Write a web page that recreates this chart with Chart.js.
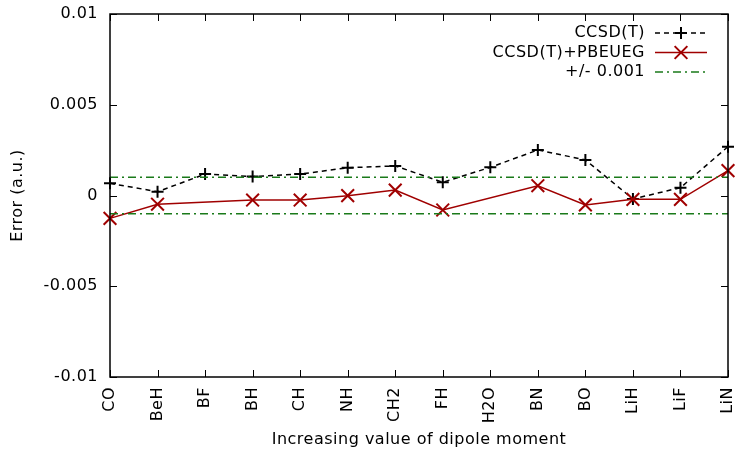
<!DOCTYPE html>
<html>
<head>
<meta charset="utf-8">
<script src="https://cdn.jsdelivr.net/npm/chart.js@4/dist/chart.umd.min.js"></script>
<style>
  html, body { margin: 0; padding: 0; background: #fff; }
  #wrap { width: 739px; height: 450px; }
</style>
</head>
<body>
<div id="wrap"><canvas id="c" width="739" height="450"></canvas></div>
<script>
// Molecules, ordered by increasing dipole moment
const molecules = ['CO', 'BeH', 'BF', 'BH', 'CH', 'NH', 'CH2', 'FH', 'H2O', 'BN', 'BO', 'LiH', 'LiF', 'LiN'];

// Error (a.u.) of each method
const ccsdT = [0.00067, 0.00021, 0.00118, 0.00104, 0.00118, 0.00153, 0.00163, 0.00073, 0.00155, 0.00251, 0.00196, -0.00019, 0.00043, 0.00269];
const ccsdTPbeueg = [-0.00126, -0.00048, null, -0.00025, -0.00025, -0.00001, 0.00030, -0.00080, null, 0.00054, -0.00052, -0.00021, -0.00021, 0.00137];

// Tolerance band
const tolerance = 0.001;
const yTicks = [-0.01, -0.005, 0, 0.005, 0.01];

const FONT = 'DejaVu Sans';
const BLACK = '#000000';
const RED = '#a00000';
const GREEN = '#1a7a1a';

Chart.defaults.color = BLACK;
Chart.defaults.font.family = FONT;
Chart.defaults.font.size = 16;

const legendItems = [
  { text: 'CCSD(T)', color: BLACK, dash: [5, 4], marker: 'cross', radius: 6 },
  { text: 'CCSD(T)+PBEUEG', color: RED, dash: [], marker: 'crossRot', radius: 9 },
  { text: '+/- 0.001', color: GREEN, dash: [8, 4, 2, 4], marker: null }
];

// Slightly looser text spacing for every label on the canvas
const spacingPlugin = {
  id: 'spacing',
  beforeInit(chart) { chart.ctx.letterSpacing = '0.5px'; },
  beforeDraw(chart) { chart.ctx.letterSpacing = '0.5px'; }
};

// Frame, inward ticks on all four sides, and the key in the top-right corner
const framePlugin = {
  id: 'frame',
  afterDraw(chart) {
    const { ctx, chartArea: a, scales } = chart;
    ctx.save();
    ctx.strokeStyle = BLACK;
    ctx.lineWidth = 1;
    ctx.beginPath();
    const tl = 7;
    yTicks.forEach(v => {
      const y = Math.round(scales.y.getPixelForValue(v)) + 0.5;
      ctx.moveTo(a.left, y); ctx.lineTo(a.left + tl, y);
      ctx.moveTo(a.right, y); ctx.lineTo(a.right - tl, y);
    });
    molecules.forEach((m, i) => {
      const x = Math.round(scales.x.getPixelForValue(i)) + 0.5;
      ctx.moveTo(x, a.bottom); ctx.lineTo(x, a.bottom - tl);
      ctx.moveTo(x, a.top); ctx.lineTo(x, a.top + tl);
    });
    ctx.stroke();

    ctx.lineWidth = 1.5;
    ctx.strokeRect(a.left, a.top, a.right - a.left, a.bottom - a.top);

    // key
    ctx.font = '16px "' + FONT + '"';
    ctx.letterSpacing = '0.5px';
    ctx.textAlign = 'right';
    ctx.textBaseline = 'middle';
    legendItems.forEach((it, k) => {
      const y = a.top + 19 + k * 19.5;
      ctx.fillStyle = BLACK;
      ctx.fillText(it.text, a.right - 83, y);
      ctx.strokeStyle = it.color;
      ctx.lineWidth = 1.5;
      ctx.setLineDash(it.dash);
      ctx.beginPath();
      ctx.moveTo(a.right - 73, y);
      ctx.lineTo(a.right - 21, y);
      ctx.stroke();
      ctx.setLineDash([]);
      if (it.marker) {
        ctx.lineWidth = 2;
        Chart.helpers.drawPoint(ctx, { pointStyle: it.marker, radius: it.radius, borderWidth: 2, rotation: 0 }, a.right - 47, y);
      }
    });
    ctx.restore();
  }
};

new Chart(document.getElementById('c'), {
  type: 'line',
  data: {
    labels: molecules,
    datasets: [
      {
        label: 'CCSD(T)',
        data: ccsdT,
        borderColor: BLACK,
        backgroundColor: BLACK,
        borderWidth: 1.5,
        borderDash: [5, 4],
        pointStyle: 'cross',
        pointRadius: 6,
        pointBorderWidth: 2,
        pointBorderColor: BLACK,
        tension: 0,
        fill: false,
        order: 2
      },
      {
        label: 'CCSD(T)+PBEUEG',
        data: ccsdTPbeueg,
        borderColor: RED,
        backgroundColor: RED,
        borderWidth: 1.5,
        pointStyle: 'crossRot',
        pointRadius: 9,
        pointBorderWidth: 2,
        pointBorderColor: RED,
        spanGaps: true,
        tension: 0,
        fill: false,
        order: 1
      },
      {
        label: '+/- 0.001',
        data: [{ x: molecules[0], y: tolerance }, { x: molecules[molecules.length - 1], y: tolerance }],
        borderColor: GREEN,
        borderWidth: 1.5,
        borderDash: [8, 4, 2, 4],
        pointRadius: 0,
        fill: false,
        order: 0
      },
      {
        label: '',
        data: [{ x: molecules[0], y: -tolerance }, { x: molecules[molecules.length - 1], y: -tolerance }],
        borderColor: GREEN,
        borderWidth: 1.5,
        borderDash: [8, 4, 2, 4],
        pointRadius: 0,
        fill: false,
        order: 0
      }
    ]
  },
  options: {
    responsive: false,
    animation: false,
    devicePixelRatio: 1,
    layout: { padding: { top: 14, right: 4, left: 0, bottom: 0 } },
    plugins: {
      legend: { display: false },
      tooltip: { enabled: false }
    },
    scales: {
      x: {
        type: 'category',
        offset: false,
        grid: { display: false, drawTicks: false },
        border: { display: false },
        ticks: {
          autoSkip: false,
          minRotation: 90,
          maxRotation: 90,
          padding: 10,
          color: BLACK,
          font: { size: 16 }
        },
        title: {
          display: true,
          text: 'Increasing value of dipole moment',
          color: BLACK,
          font: { size: 16 },
          padding: { top: 0, bottom: 1 }
        },
        afterFit(scale) {
          scale.height = 73;
          scale.paddingLeft = 0;
          scale.paddingRight = 0;
        }
      },
      y: {
        min: -0.01,
        max: 0.01,
        grid: { display: false, drawTicks: false },
        border: { display: false },
        afterBuildTicks(scale) {
          scale.ticks = yTicks.map(v => ({ value: v }));
        },
        ticks: {
          padding: 12,
          color: BLACK,
          font: { size: 16 },
          callback: v => String(+Number(v).toFixed(3))
        },
        title: {
          display: true,
          text: 'Error (a.u.)',
          color: BLACK,
          font: { size: 16 },
          padding: { top: 8, bottom: 0 }
        },
        afterFit(scale) {
          scale.width = 110;
          scale.paddingTop = 0;
          scale.paddingBottom = 0;
        }
      }
    }
  },
  plugins: [spacingPlugin, framePlugin]
});
</script>
</body>
</html>
